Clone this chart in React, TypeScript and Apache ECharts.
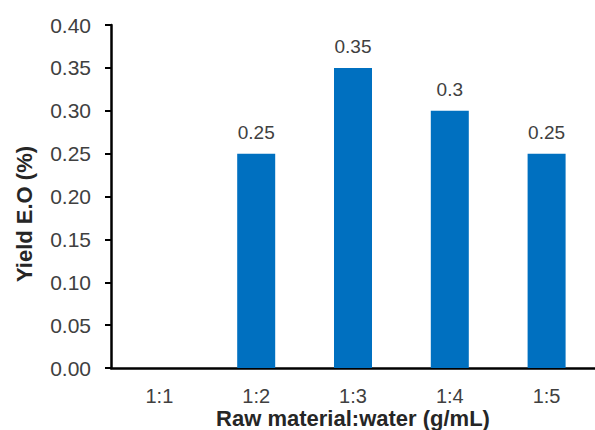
import React, { useEffect, useRef } from "react";
import * as echarts from "echarts";

const categories = ["1:1", "1:2", "1:3", "1:4", "1:5"];
const yieldValues = [0, 0.25, 0.35, 0.3, 0.25];
const labelTexts = ["", "0.25", "0.35", "0.3", "0.25"];

export default function App() {
  const ref = useRef<HTMLDivElement>(null);
  useEffect(() => {
    const chart = echarts.init(ref.current!, null, { renderer: "svg" });
    chart.setOption({
      animation: false,
      backgroundColor: "#ffffff",
      grid: { left: 111, right: 0, top: 25, bottom: 62 },
      xAxis: {
        type: "category",
        data: categories,
        axisLine: { lineStyle: { color: "#000", width: 2.5 } },
        axisTick: { show: false },
        axisLabel: {
          color: "#404040",
          fontFamily: "Liberation Sans, Arial",
          fontSize: 20,
          margin: 18,
        },
      },
      yAxis: {
        type: "value",
        min: 0,
        max: 0.4,
        interval: 0.05,
        splitLine: { show: false },
        axisLine: { show: true, lineStyle: { color: "#000", width: 2.5 } },
        axisTick: { show: true, length: 6, lineStyle: { color: "#000", width: 2 } },
        axisLabel: {
          color: "#404040",
          fontFamily: "Liberation Sans, Arial",
          fontSize: 21,
          margin: 20,
          formatter: (v: number) => v.toFixed(2),
        },
      },
      graphic: [
        {
          type: "text",
          x: 353,
          y: 418,
          style: {
            text: "Raw material:water (g/mL)",
            font: "bold 22px Liberation Sans, Arial",
            fill: "#262626",
            align: "center",
            verticalAlign: "middle",
          },
        },
        {
          type: "text",
          x: 24,
          y: 214,
          rotation: Math.PI / 2,
          style: {
            text: "Yield E.O (%)",
            font: "bold 22px Liberation Sans, Arial",
            fill: "#262626",
            align: "center",
            verticalAlign: "middle",
          },
        },
      ],
      series: [
        {
          type: "bar",
          data: yieldValues.map((v, i) => ({
            value: v,
            label: { show: labelTexts[i] !== "", formatter: labelTexts[i] },
          })),
          barWidth: 38,
          itemStyle: { color: "#0070C0" },
          label: {
            position: "top",
            distance: 12,
            color: "#404040",
            fontFamily: "Liberation Sans, Arial",
            fontSize: 19,
          },
        },
      ],
    });
    return () => chart.dispose();
  }, []);
  return <div ref={ref} style={{ width: 595, height: 430, position: "absolute", left: 0, top: 0 }} />;
}
